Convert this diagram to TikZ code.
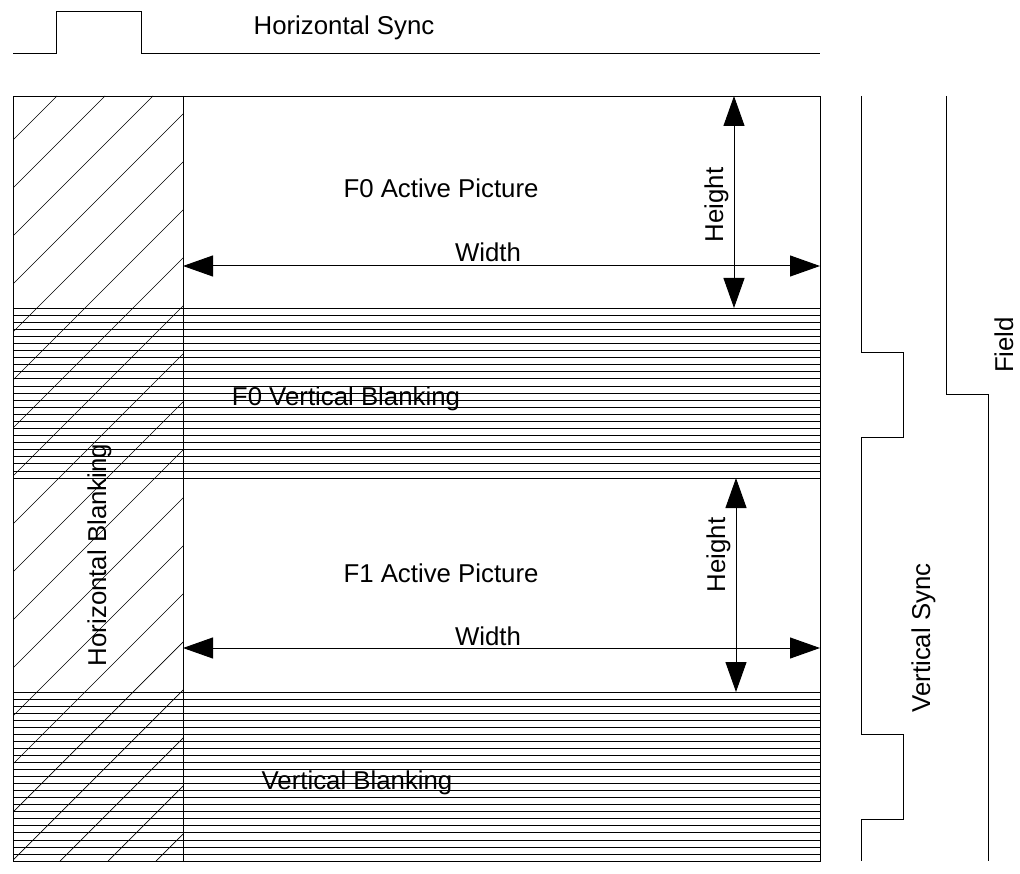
\documentclass[tikz,border=0pt]{standalone}
\usepackage{fontspec}
\setmainfont{Liberation Sans}
\usetikzlibrary{arrows.meta}
\begin{document}
\begin{tikzpicture}[x=1pt, y=-1pt, line width=0.9pt, line join=miter, >={Triangle[length=30pt,width=21pt]},
	lbl/.style={font=\fontsize{25.8}{30}\selectfont, inner sep=0pt, anchor=base},
	vlbl/.style={lbl, rotate=90},
	dim/.style={<->, line width=1pt}]
	\useasboundingbox (0,0) rectangle (1020,874);
	% horizontal sync
	\draw (13,53) -- (56,53) -- (56,11) -- (141,11) -- (141,53) -- (820,53);
	\node[lbl] (hsync) at (344,35) {Horizontal Sync};
	% hatching of the horizontal blanking column
	\begin{scope}
		\clip (13,96) rectangle (183,861);
		\foreach \k in {0,1,...,18}
		\draw[line width=0.7pt] ({57+48*\k},96) -- ({57+48*\k-765},861);
	\end{scope}
	% vertical blanking lines
	\foreach \i in {1,2,...,23}
	\draw[line width=0.7pt] (13,{308+170*\i/24}) -- (820,{308+170*\i/24});
	\foreach \i in {1,2,...,23}
	\draw[line width=0.7pt] (13,{692+169*\i/24}) -- (820,{692+169*\i/24});
	% frame
	\draw (13,96) rectangle (820,861);
	\draw (183,96) -- (183,861);
	\draw (13,308) -- (820,308) (13,478) -- (820,478) (13,692) -- (820,692);
	% dimensions
	\coordinate (w0a) at (183,266); \coordinate (w0b) at (820,266);
	\coordinate (h0a) at (734,96);  \coordinate (h0b) at (734,308);
	\coordinate (w1a) at (183,648); \coordinate (w1b) at (820,648);
	\coordinate (h1a) at (736,478); \coordinate (h1b) at (736,692);
	\draw[dim] (w0a) -- (w0b);
	\draw[dim] (h0a) -- (h0b);
	\draw[dim] (w1a) -- (w1b);
	\draw[dim] (h1a) -- (h1b);
	% labels
	\node[lbl] (f0act) at (441,198) {F0 Active Picture};
	\node[lbl] (f0wid) at (488,262) {Width};
	\node[vlbl] (f0hgt) at (723,205) {Height};
	\node[lbl] (f0vbl) at (346,406) {F0 Vertical Blanking};
	\node[vlbl] (hblank) at (106,555) {Horizontal Blanking};
	\node[lbl] (f1act) at (441,582) {F1 Active Picture};
	\node[lbl] (f1wid) at (488,645) {Width};
	\node[vlbl] (f1hgt) at (725,555) {Height};
	\node[lbl] (vblank) at (357,789) {Vertical Blanking};
	% vertical sync and field
	\draw (861,96) -- (861,352) -- (903,352) -- (903,437) -- (861,437) -- (861,734)
		-- (903,734) -- (903,819) -- (861,819) -- (861,861);
	\draw (946,96) -- (946,394) -- (988,394) -- (988,861);
	\node[vlbl] (vsync) at (930,638) {Vertical Sync};
	\node[vlbl] (field) at (1013,345) {Field};
\end{tikzpicture}
\end{document}
